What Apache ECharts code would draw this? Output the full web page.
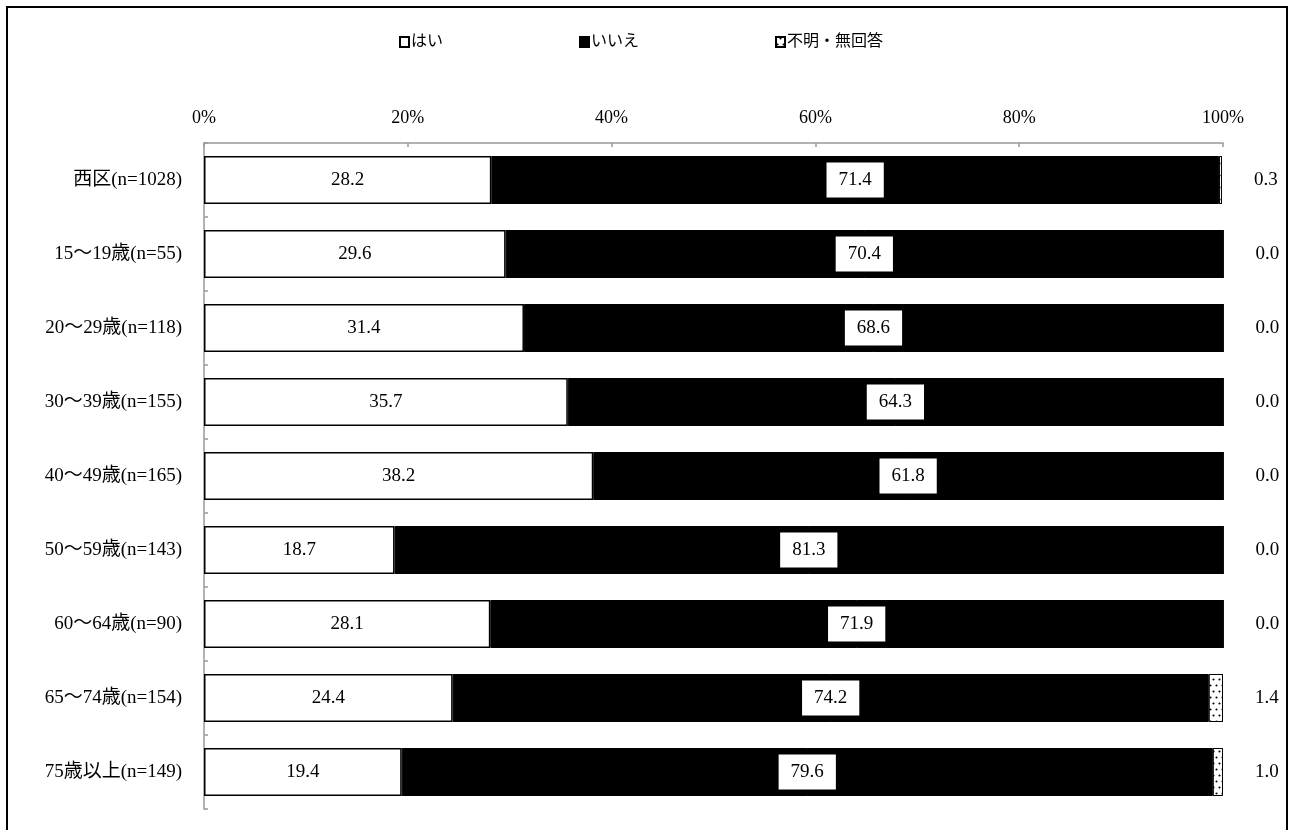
<!DOCTYPE html>
<html><head><meta charset="utf-8">
<script src="https://cdn.jsdelivr.net/npm/echarts@6/dist/echarts.min.js"></script>
<style>html,body{margin:0;padding:0;background:#fff}#c{width:1295px;height:830px}</style>
</head><body><div id="c"></div>
<script>
const categories = ['西区(n=1028)','15～19歳(n=55)','20～29歳(n=118)','30～39歳(n=155)','40～49歳(n=165)','50～59歳(n=143)','60～64歳(n=90)','65～74歳(n=154)','75歳以上(n=149)'];
const yes = [28.2, 29.6, 31.4, 35.7, 38.2, 18.7, 28.1, 24.4, 19.4];
const no = [71.4, 70.4, 68.6, 64.3, 61.8, 81.3, 71.9, 74.2, 79.6];
const unknown = [0.3, 0.0, 0.0, 0.0, 0.0, 0.0, 0.0, 1.4, 1.0];
const seriesNames = ['はい', 'いいえ', '不明・無回答'];
const xTicks = [0, 20, 40, 60, 80, 100];

const FONT = '"Liberation Serif", "DejaVu Serif", "Noto Sans CJK JP", serif';
const chart = echarts.init(document.getElementById('c'), null, {renderer: 'canvas'});
const fmt = p => p.value.toFixed(1);
chart.setOption({
  backgroundColor: '#fff',
  animation: false,
  textStyle: {fontFamily: FONT, color: '#000'},
  graphic: [{type: 'rect', shape: {x: 7, y: 7, width: 1280, height: 900}, style: {fill: 'none', stroke: '#000', lineWidth: 2}}],
  legend: {
    top: 34, left: 399, padding: 0, itemGap: 136, itemWidth: 9, itemHeight: 10, icon: 'rect',
    textStyle: {fontFamily: FONT, fontSize: 16, color: '#000', padding: [0, 0, 0, -3]},
    data: seriesNames
  },
  grid: {left: 204, right: 72, top: 143, bottom: 21, containLabel: false},
  xAxis: {
    type: 'value', position: 'top', min: xTicks[0], max: xTicks[xTicks.length - 1], interval: 20,
    axisLine: {show: true, lineStyle: {color: '#999', width: 1.5}},
    axisTick: {show: true, inside: true, length: 4, lineStyle: {color: '#999', width: 1.5}},
    splitLine: {show: false},
    axisLabel: {formatter: '{value}%', fontFamily: FONT, fontSize: 18, color: '#000', margin: 16}
  },
  yAxis: {
    type: 'category', inverse: true, data: categories,
    axisLine: {show: true, lineStyle: {color: '#999', width: 1.5}},
    axisTick: {show: true, inside: true, length: 4, lineStyle: {color: '#999', width: 1.5}},
    axisLabel: {fontFamily: FONT, fontSize: 19, color: '#000', margin: 22}
  },
  series: [
    {name: seriesNames[0], type: 'bar', stack: 'a', data: yes, barWidth: 48,
     itemStyle: {color: '#fff', borderColor: '#000', borderWidth: 1.5},
     label: {show: true, position: 'inside', formatter: fmt, fontFamily: FONT, fontSize: 19, color: '#000'}},
    {name: seriesNames[1], type: 'bar', stack: 'a', data: no, barWidth: 48,
     itemStyle: {color: '#000', borderColor: '#000', borderWidth: 1},
     label: {show: true, position: 'inside', formatter: fmt, fontFamily: FONT, fontSize: 19, color: '#000',
             backgroundColor: '#fff', padding: [8, 12]}},
    {name: seriesNames[2], type: 'bar', stack: 'a', data: unknown, barWidth: 48,
     itemStyle: {color: '#fff', borderColor: '#000', borderWidth: 1,
       decal: {symbol: 'circle', symbolSize: 0.7, color: '#000', backgroundColor: '#fff',
               dashArrayX: [[3, 3], [0, 3, 3, 0]], dashArrayY: [3, 3], rotation: 0}},
     label: {show: true, position: 'right', distance: 32, formatter: fmt, fontFamily: FONT, fontSize: 19, color: '#000'}}
  ]
});
</script></body></html>
